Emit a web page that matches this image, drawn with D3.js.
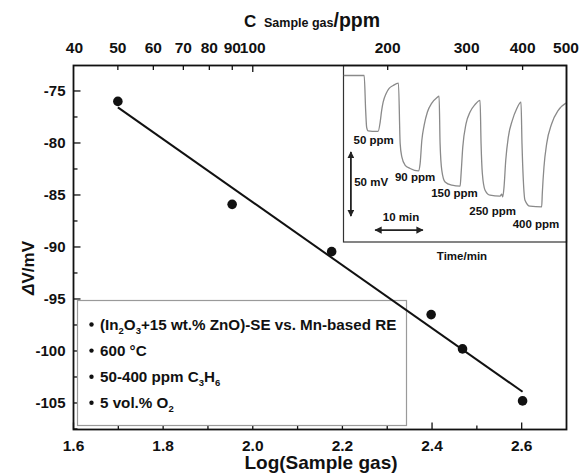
<!DOCTYPE html>
<html>
<head>
<meta charset="utf-8">
<script src="https://cdn.jsdelivr.net/npm/d3@7"></script>
<style>
  body { margin: 0; background: #fff; }
  svg { display: block; }
  text { font-family: "Liberation Sans", Arial, sans-serif; font-weight: bold; fill: #111; }
</style>
</head>
<body>
<svg id="chart" width="582" height="474"></svg>
<script>
// Sensor response vs. propylene concentration
const concentrations = [50, 90, 150, 250, 300, 400];          // ppm
const logConc = [1.699, 1.954, 2.176, 2.398, 2.468, 2.602];   // log10 of sample gas
const deltaV = [-76.0, -85.9, -90.45, -96.5, -99.8, -104.8];  // mV

const bottomTicks = [1.6, 1.8, 2.0, 2.2, 2.4, 2.6];
const bottomMinor = [1.7, 1.9, 2.1, 2.3, 2.5];
const leftTicks = [-75, -80, -85, -90, -95, -100, -105];
const leftMinor = [-77.5, -82.5, -87.5, -92.5, -97.5, -102.5, -107.5];
const topLabels = [40, 50, 60, 70, 80, 90, 100, 200, 300, 400, 500];
const topMinor = [50, 60, 70, 80, 90, 200, 300, 400];
const topMajor = [100];

// Legend lines: [text, isSubscript]
const legendLines = [
  [["(In", 0], ["2", 1], ["O", 0], ["3", 1], ["+15 wt.% ZnO)-SE vs. Mn-based RE", 0]],
  [["600 \u00B0C", 0]],
  [["50-400 ppm C", 0], ["3", 1], ["H", 0], ["6", 1]],
  [["5 vol.% O", 0], ["2", 1]]
];

// Transient response trace (time in min, signal in mV relative to base line)
const traceTime = [0, 4.34, 4.65, 4.86, 5.18, 6.02, 7.27, 7.69, 8.01, 8.32, 8.95, 9.58, 10.42, 11.53,
  11.89, 12.24, 12.94, 13.98, 15.72, 16.08, 16.44, 16.92, 17.61, 18.53, 19.58, 20.06,
  20.27, 20.63, 21.32, 22.73, 24.47, 24.68, 25.03, 25.72, 26.56, 27.61, 28.66,
  28.87, 29.14, 29.71, 30.75, 32.85, 33.21, 33.42, 33.69, 34.05, 34.59, 35.43, 36.35, 37.25,
  37.46, 37.74, 38.09, 39.14, 41.59, 41.72, 42.07, 42.64, 43.69, 45.07, 47.04];
const traceMv = [0, 0, -27.2, -40.4, -43.2, -43.5, -43.5, -36.5, -27.2, -20.8, -14.0, -10.1, -7.8, -6.0,
  -52.9, -63.5, -70.0, -72.5, -74.4, -68.7, -50.5, -38.9, -28.5, -21.5, -17.3, -16.1,
  -53.1, -73.9, -83.0, -85.5, -86.3, -76.4, -55.8, -37.6, -28.5, -22.6, -19.4,
  -53.1, -76.4, -89.4, -93.3, -94.1, -92.5, -94.6, -86.9, -66.1, -48.0, -35.0, -25.9, -20.8,
  -53.1, -81.6, -97.2, -101.9, -102.4, -92.0, -71.3, -53.1, -37.6, -27.2, -20.8];
const pulseLabels = ["50 ppm", "90 ppm", "150 ppm", "250 ppm", "400 ppm"];
const pulseLabelTime = [2.1, 10.8, 18.4, 26.4, 35.5];
const pulseLabelMv = [-53.7, -82.2, -94.6, -108.7, -119.2];

const svg = d3.select("#chart");

// Plot frame and scales
const L = 73.5, R = 566.5, T = 65.5, B = 429.5;
const x = d3.scaleLinear().domain([1.6, 2.7]).range([L, R]);
const y = d3.scaleLinear().domain([-107.55, -72.55]).range([B, T]);
const xTop = d3.scaleLog().domain([Math.pow(10, 1.6), Math.pow(10, 2.7)]).range([L, R]);

// ---------- Inset: transient response ----------
const inL = 343.5, inR = 566.5, inT = 65.5, inB = 242;
const ix = d3.scaleLinear().domain([0, 46.8]).range([inL, inR]);
const iy = d3.scaleLinear().domain([7.8, -129.8]).range([inT, inB]);

svg.append("rect").attr("x", inL).attr("y", inT).attr("width", inR - inL).attr("height", inB - inT)
  .attr("fill", "#fff").attr("stroke", "#333").attr("stroke-width", 1.2);

svg.append("clipPath").attr("id", "inClip").append("rect")
  .attr("x", inL).attr("y", inT).attr("width", inR - inL).attr("height", inB - inT);

const trace = traceTime.map((t, i) => [t, traceMv[i]]);
svg.append("path").datum(trace)
  .attr("clip-path", "url(#inClip)")
  .attr("fill", "none").attr("stroke", "#8a8a8a").attr("stroke-width", 1.3)
  .attr("d", d3.line().x(d => ix(d[0])).y(d => iy(d[1])).curve(d3.curveMonotoneX));

pulseLabels.forEach((s, i) => {
  svg.append("text").attr("x", ix(pulseLabelTime[i])).attr("y", iy(pulseLabelMv[i]))
    .attr("font-size", 11.5).text(s);
});

// scale bars
const defs = svg.append("defs");
defs.append("marker").attr("id", "ah").attr("viewBox", "0 0 10 10").attr("refX", 9).attr("refY", 5)
  .attr("markerWidth", 4).attr("markerHeight", 4).attr("orient", "auto-start-reverse")
  .append("path").attr("d", "M0,0 L10,5 L0,10 Z").attr("fill", "#222");

const vBarT = 1.55, vBarTop = -59.6, vBarSpan = 50;
svg.append("line").attr("x1", ix(vBarT)).attr("x2", ix(vBarT))
  .attr("y1", iy(vBarTop)).attr("y2", iy(vBarTop - vBarSpan))
  .attr("stroke", "#222").attr("stroke-width", 1.8)
  .attr("marker-start", "url(#ah)").attr("marker-end", "url(#ah)");
svg.append("text").attr("x", ix(2.24)).attr("y", iy(-86.1)).attr("font-size", 11.5).text("50 mV");

const hBarStart = 6.65, hBarSpan = 10, hBarMv = -120.5;
svg.append("line").attr("x1", ix(hBarStart)).attr("x2", ix(hBarStart + hBarSpan))
  .attr("y1", iy(hBarMv)).attr("y2", iy(hBarMv))
  .attr("stroke", "#222").attr("stroke-width", 1.8)
  .attr("marker-start", "url(#ah)").attr("marker-end", "url(#ah)");
svg.append("text").attr("x", ix(8.25)).attr("y", iy(-113.3)).attr("font-size", 11.5).text("10 min");

svg.append("text").attr("x", 462).attr("y", 260).attr("text-anchor", "middle")
  .attr("font-size", 11.5).text("Time/min");

// ---------- Main axes ----------
const axisG = svg.append("g").attr("stroke", "#111").attr("stroke-width", 1.3);
bottomTicks.forEach(v => axisG.append("line").attr("x1", x(v)).attr("x2", x(v)).attr("y1", B).attr("y2", B - 7));
bottomMinor.forEach(v => axisG.append("line").attr("x1", x(v)).attr("x2", x(v)).attr("y1", B).attr("y2", B - 4));
leftTicks.forEach(v => axisG.append("line").attr("x1", L).attr("x2", L + 7).attr("y1", y(v)).attr("y2", y(v)));
leftMinor.forEach(v => axisG.append("line").attr("x1", L).attr("x2", L + 4).attr("y1", y(v)).attr("y2", y(v)));
topMinor.forEach(v => axisG.append("line").attr("x1", xTop(v)).attr("x2", xTop(v)).attr("y1", T).attr("y2", T + 4.5));
topMajor.forEach(v => axisG.append("line").attr("x1", xTop(v)).attr("x2", xTop(v)).attr("y1", T).attr("y2", T + 6.5));

// ---------- Legend box ----------
const lgL = 77.5, lgT = 300.5, lgR = 406.5, lgB = 425.5;
svg.append("rect").attr("x", lgL).attr("y", lgT).attr("width", lgR - lgL).attr("height", lgB - lgT)
  .attr("fill", "#fff").attr("stroke", "#9a9a9a").attr("stroke-width", 1.2);

legendLines.forEach((parts, i) => {
  const by = 329.5 + i * 26.1;
  svg.append("circle").attr("cx", 91.5).attr("cy", by - 5).attr("r", 2.2).attr("fill", "#111");
  const t = svg.append("text").attr("x", 100).attr("y", by).attr("font-size", 15.2);
  parts.forEach(([s, sub], k) => {
    const prevSub = k > 0 && parts[k - 1][1];
    const sp = t.append("tspan").text(s);
    if (sub) sp.attr("font-size", 9.5).attr("dy", 4);
    else if (prevSub) sp.attr("dy", -4);
  });
});

// ---------- Data points and linear fit ----------
const pts = logConc.map((v, i) => [v, deltaV[i]]);
const mx = d3.mean(logConc), my = d3.mean(deltaV);
const slope = d3.sum(pts, d => (d[0] - mx) * (d[1] - my)) / d3.sum(pts, d => (d[0] - mx) ** 2);
const icpt = my - slope * mx;
const x0 = d3.min(logConc), x1 = d3.max(logConc);
svg.append("line").attr("x1", x(x0)).attr("y1", y(icpt + slope * x0))
  .attr("x2", x(x1)).attr("y2", y(icpt + slope * x1))
  .attr("stroke", "#111").attr("stroke-width", 2);

svg.selectAll("circle.pt").data(pts).join("circle").attr("class", "pt")
  .attr("cx", d => x(d[0])).attr("cy", d => y(d[1])).attr("r", 4.8).attr("fill", "#111");

// frame
svg.append("rect").attr("x", L).attr("y", T).attr("width", R - L).attr("height", B - T)
  .attr("fill", "none").attr("stroke", "#111").attr("stroke-width", 1.8);

// ---------- Tick labels ----------
bottomTicks.forEach(v => svg.append("text").attr("x", x(v)).attr("y", 450.5)
  .attr("text-anchor", "middle").attr("font-size", 15.5).text(v.toFixed(1)));
leftTicks.forEach(v => svg.append("text").attr("x", 65.5).attr("y", y(v)).attr("dy", "0.36em")
  .attr("text-anchor", "end").attr("font-size", 15).text(v));
topLabels.forEach(v => svg.append("text").attr("x", xTop(v)).attr("y", 53.3)
  .attr("text-anchor", "middle").attr("font-size", 15.5).text(v));

// ---------- Axis titles ----------
svg.append("text").attr("x", 321).attr("y", 469).attr("text-anchor", "middle")
  .attr("font-size", 19).text("Log(Sample gas)");

const yt = svg.append("text").attr("transform", "translate(34,268) rotate(-90)")
  .attr("text-anchor", "middle").attr("font-size", 17);
yt.append("tspan").attr("font-style", "italic").text("\u0394");
yt.append("tspan").text("V/mV");

const tt = svg.append("text").attr("x", 244).attr("y", 27);
tt.append("tspan").attr("font-size", 17).text("C");
tt.append("tspan").attr("x", 264).attr("font-size", 12.5).text("Sample gas");
tt.append("tspan").attr("font-size", 19.5).text("/ppm");
</script>
</body>
</html>
